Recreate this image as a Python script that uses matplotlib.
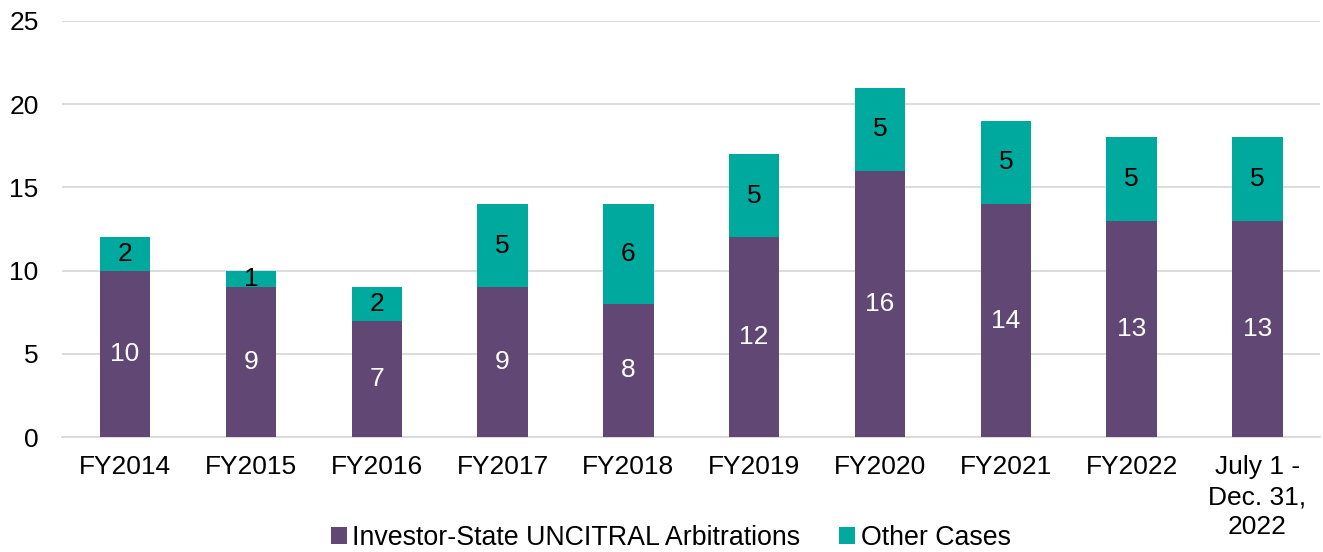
import matplotlib
matplotlib.use("Agg")
import matplotlib.pyplot as plt
import numpy as np

categories = ["FY2014", "FY2015", "FY2016", "FY2017", "FY2018", "FY2019",
              "FY2020", "FY2021", "FY2022", "July 1 -\nDec. 31,\n2022"]
investor_state = [10, 9, 7, 9, 8, 12, 16, 14, 13, 13]
other_cases = [2, 1, 2, 5, 6, 5, 5, 5, 5, 5]

plt.rcParams['font.family'] = ['Liberation Sans', 'DejaVu Sans']

fig = plt.figure(figsize=(13.23, 5.52), dpi=100)
ax = fig.add_axes([0.047, 0.2083, 0.951, 0.7537])

purple = "#614874"
teal = "#00A99D"
fs = 19
x = np.arange(len(categories))
w = 0.4
b1 = ax.bar(x, investor_state, w, color=purple, label="Investor-State UNCITRAL Arbitrations", zorder=3)
b2 = ax.bar(x, other_cases, w, bottom=investor_state, color=teal, label="Other Cases", zorder=3)

for i in range(len(x)):
    ax.text(x[i], investor_state[i] / 2, str(investor_state[i]), ha="center", va="center",
            color="white", fontsize=fs, zorder=4)
    ax.text(x[i], investor_state[i] + other_cases[i] / 2, str(other_cases[i]), ha="center",
            va="center", color="black", fontsize=fs, zorder=4)

ax.set_xlim(-0.5, len(x) - 0.5)
ax.set_ylim(0, 25)
ax.set_yticks([0, 5, 10, 15, 20, 25])
ax.yaxis.grid(True, color="#d9d9d9", linewidth=1.3, zorder=0)
ax.set_axisbelow(True)
for s in ["top", "right", "left"]:
    ax.spines[s].set_visible(False)
ax.spines["bottom"].set_color("#d9d9d9")
ax.spines["bottom"].set_linewidth(1.3)
ax.tick_params(axis="both", length=0, labelsize=fs, colors="black")
ax.tick_params(axis="y", pad=17)
ax.tick_params(axis="x", pad=13)
ax.set_xticks(x)
ax.set_xticklabels(categories, linespacing=1.32)

fig.legend(handles=[b1, b2], loc="lower center", bbox_to_anchor=(0.507, -0.041), ncol=2,
           frameon=False, fontsize=19.3, handlelength=0.6, handleheight=0.6,
           handletextpad=0.2, columnspacing=1.45)

fig.savefig("out.png", dpi=100)
